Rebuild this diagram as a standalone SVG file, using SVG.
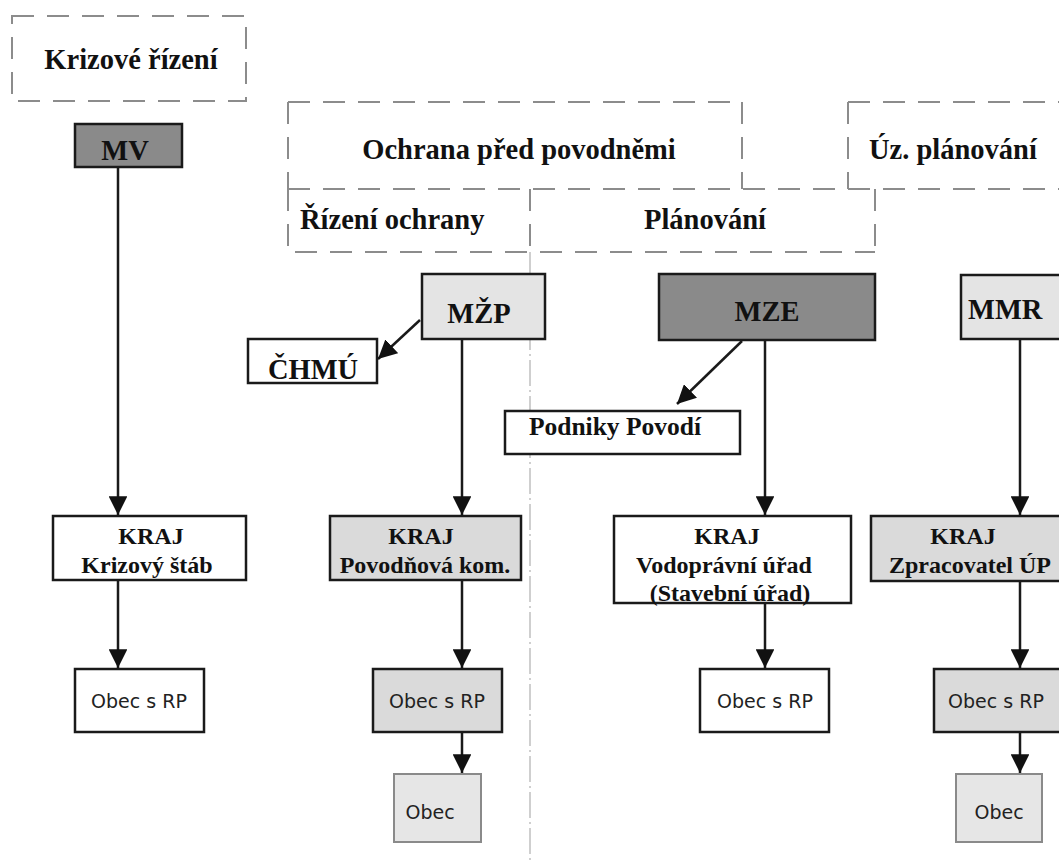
<svg xmlns="http://www.w3.org/2000/svg" width="1059" height="863" viewBox="0 0 1059 863">
<style>
.bg{fill:#ffffff}
.dash{fill:none;stroke:#8c8c8c;stroke-width:2;stroke-dasharray:22 13}
.thin{fill:none;stroke:#b0b0b0;stroke-width:1.2;stroke-dasharray:26 4 2 4}
.box{stroke:#1a1a1a;stroke-width:2.5}
.light{stroke:#8a8a8a;stroke-width:2;fill:#e6e6e6}
.dark{fill:#8a8a8a}
.lg{fill:#e4e4e4}
.mg{fill:#dadada}
.wh{fill:#ffffff}
.h{font-family:"Liberation Serif",serif;font-weight:bold;font-size:28.5px;fill:#111}
.k{font-family:"Liberation Serif",serif;font-weight:bold;font-size:24px;fill:#111;text-anchor:middle}
.n{font-family:"DejaVu Sans",sans-serif;font-size:19px;fill:#222;text-anchor:middle}
.c{text-anchor:middle}
.ln{stroke:#1a1a1a;stroke-width:2.5;fill:none}
</style>
<defs>
<marker id="ah" viewBox="0 0 10 10" refX="10" refY="5" markerWidth="7.5" markerHeight="7.5" markerUnits="strokeWidth" orient="auto">
<path d="M0,0 L10,5 L0,10 Z" fill="#111"/>
</marker>
</defs>
<rect class="bg" x="0" y="0" width="1059" height="863"/>

<g id="frames">
<rect class="dash" x="12" y="16" width="234" height="85"/>
<path class="dash" d="M288,102 H742 M288,102 V189 M742,102 V189"/>
<path class="dash" d="M848,102 H1059 M848,102 V189"/>
<path class="dash" d="M288,189 H1059"/>
<path class="dash" d="M288,189 V252 H875 M875,189 V252"/>
<path class="dash" d="M530,189 V252"/>
<path class="thin" d="M530,252 V863"/>
<text class="h c" x="131" y="69">Krizové řízení</text>
<text class="h c" x="519" y="159">Ochrana před povodněmi</text>
<text class="h" x="869" y="159">Úz. plánování</text>
<text class="h" x="300" y="229">Řízení ochrany</text>
<text class="h c" x="705" y="229">Plánování</text>
</g>

<g id="connectors">
<path class="ln" marker-end="url(#ah)" d="M118,167 V515"/>
<path class="ln" marker-end="url(#ah)" d="M118,580 V668"/>
<path class="ln" marker-end="url(#ah)" d="M462,339 V515"/>
<path class="ln" marker-end="url(#ah)" d="M462,580 V668"/>
<path class="ln" marker-end="url(#ah)" d="M462,732 V773"/>
<path class="ln" marker-end="url(#ah)" d="M765,340 V515"/>
<path class="ln" marker-end="url(#ah)" d="M765,603 V668"/>
<path class="ln" marker-end="url(#ah)" d="M1020,340 V515"/>
<path class="ln" marker-end="url(#ah)" d="M1020,581 V668"/>
<path class="ln" marker-end="url(#ah)" d="M1020,732 V773"/>
<path class="ln" marker-end="url(#ah)" d="M420,320 L378,359"/>
<path class="ln" marker-end="url(#ah)" d="M742,341 L677,404"/>
</g>

<g id="mv"><rect class="box dark" x="75" y="124" width="107" height="43"/><text class="h c" x="125" y="160">MV</text></g>
<g id="mzp"><rect class="box lg" x="422" y="274" width="123" height="65"/><text class="h c" x="479" y="323">MŽP</text></g>
<g id="chmu"><rect class="box wh" x="248" y="339" width="129" height="44"/><text class="h c" x="313" y="379">ČHMÚ</text></g>
<g id="mze"><rect class="box dark" x="659" y="274" width="216" height="66"/><text class="h c" x="767" y="321">MZE</text></g>
<g id="podniky"><rect class="box wh" x="505" y="411" width="235" height="43"/><text class="h c" x="615" y="435" style="font-size:25.5px">Podniky Povodí</text></g>
<g id="mmr"><rect class="box lg" x="961" y="275" width="110" height="64"/><text class="h" x="968" y="319">MMR</text></g>

<g id="kraj1"><rect class="box wh" x="53" y="516" width="193" height="64"/><text class="k" x="151" y="544">KRAJ</text><text class="k" x="147" y="573">Krizový štáb</text></g>
<g id="kraj2"><rect class="box mg" x="330" y="516" width="191" height="64"/><text class="k" x="421" y="544">KRAJ</text><text class="k" x="425" y="573">Povodňová kom.</text></g>
<g id="kraj3"><rect class="box wh" x="614" y="516" width="237" height="87"/><text class="k" x="727" y="544">KRAJ</text><text class="k" x="724" y="573">Vodoprávní úřad</text><text class="k" x="730" y="601">(Stavební úřad)</text></g>
<g id="kraj4"><rect class="box mg" x="871" y="516" width="200" height="65"/><text class="k" x="963" y="544">KRAJ</text><text class="k" x="970" y="573">Zpracovatel ÚP</text></g>

<g id="obecrp1"><rect class="box wh" x="75" y="669" width="129" height="63"/><text class="n" x="139" y="708">Obec s RP</text></g>
<g id="obecrp2"><rect class="box mg" x="373" y="669" width="129" height="63"/><text class="n" x="437" y="708">Obec s RP</text></g>
<g id="obecrp3"><rect class="box wh" x="700" y="669" width="129" height="63"/><text class="n" x="765" y="708">Obec s RP</text></g>
<g id="obecrp4"><rect class="box mg" x="934" y="669" width="130" height="63"/><text class="n" x="996" y="708">Obec s RP</text></g>

<g id="obec2"><rect class="light" x="394" y="774" width="87" height="68"/><text class="n" x="430" y="819">Obec</text></g>
<g id="obec4"><rect class="light" x="956" y="774" width="86" height="68"/><text class="n" x="999" y="819">Obec</text></g>
</svg>
